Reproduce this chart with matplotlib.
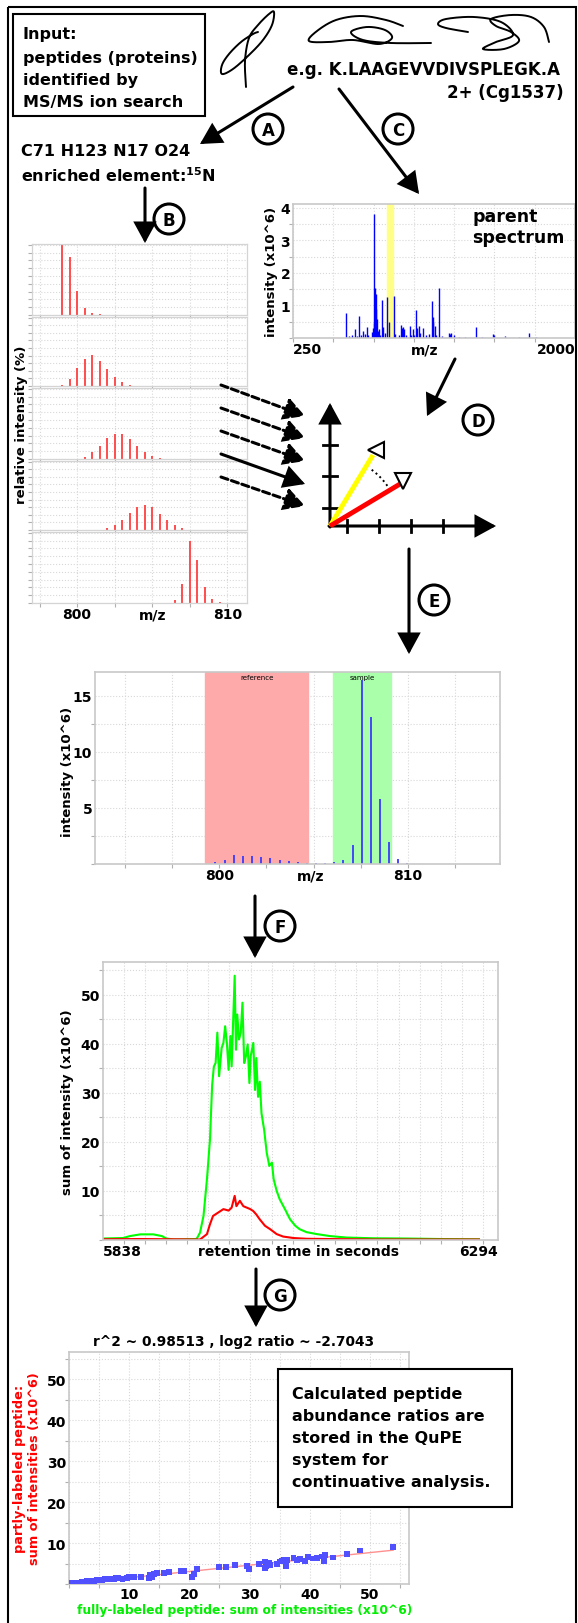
import numpy as np
import matplotlib
matplotlib.use('Agg')
import matplotlib.pyplot as plt
from matplotlib.patches import Circle, Rectangle, FancyArrowPatch
from matplotlib.ticker import MultipleLocator, FixedLocator

W, H = 578, 1624
plt.rcParams['font.family'] = ['DejaVu Sans']
plt.rcParams['font.weight'] = 'bold'
plt.rcParams['axes.labelweight'] = 'bold'

# --- B: theoretical isotope patterns (relative intensity %) ---
b1_mz = [799.0, 799.5, 800.0, 800.5, 801.0, 801.5]
b1_int = [99, 81, 34, 10, 3, 1]
b2_mz = [799.0, 799.5, 800.0, 800.5, 801.0, 801.5, 802.0, 802.5, 803.0, 803.5, 804.0]
b2_int = [2, 10.6, 26, 39.6, 44.4, 36.7, 24.6, 13.5, 5.3, 2, 0.5]
b3_mz = [800.0, 800.5, 801.0, 801.5, 802.0, 802.5, 803.0, 803.5, 804.0, 804.5, 805.0, 805.5, 806.0]
b3_int = [0.5, 3.4, 9.7, 18.9, 29.1, 35.9, 35, 27.7, 18.4, 10.2, 4.4, 1, 0.3]
b4_mz = [801.5, 802.0, 802.5, 803.0, 803.5, 804.0, 804.5, 805.0, 805.5, 806.0, 806.5, 807.0, 807.5]
b4_int = [0.3, 2.4, 7.2, 14.4, 24, 33.2, 36.5, 33.2, 23.6, 14.4, 7.2, 2.4, 0.3]
b5_mz = [806.5, 807.0, 807.5, 808.0, 808.5, 809.0, 809.5]
b5_int = [4.8, 26.4, 88, 61, 22, 5.8, 1]

# --- C: parent spectrum (x10^6) ---
parent_mz = [581, 600, 615, 635, 645, 660, 672, 687, 697, 707, 716, 738, 745, 750,
             755, 759, 763, 766, 769, 775, 782, 790, 802, 811, 820, 831, 844, 877,
             885, 905, 920, 925, 931, 939, 950, 974, 980, 993, 1003, 1015, 1022,
             1030, 1040, 1055, 1075, 1092, 1111, 1116, 1121, 1129, 1140, 1156, 1175,
             1216, 1222, 1229, 1249, 1280, 1320, 1386, 1420, 1493, 1500, 1566, 1650,
             1713, 1760]
parent_int = [0.76, 0.05, 0.08, 0.28, 0.06, 0.67, 0.1, 0.2, 0.12, 0.33, 0.08, 0.17, 0.3, 0.45,
              3.8, 1.53, 1.35, 0.9, 0.58, 0.2, 0.28, 0.1, 1.17, 0.33, 0.15, 1.25, 0.5, 1.28,
              0.12, 0.1, 0.41, 0.3, 0.33, 0.28, 0.1, 0.38, 0.1, 0.28, 0.1, 0.86, 0.3,
              0.36, 0.15, 0.3, 0.08, 0.13, 1.13, 0.5, 0.64, 0.38, 0.08, 1.55, 0.06,
              0.15, 0.12, 0.15, 0.1, 0.04, 0.04, 0.35, 0.03, 0.11, 0.08, 0.05, 0.03,
              0.15, 0.02]
selected_window = (835, 871)

# --- E: measured isotope cluster (x10^6) ---
e_mz = [799.79, 800.28, 800.78, 801.25, 801.75, 802.22, 802.71, 803.21, 803.69, 804.18,
        804.66, 805.14, 805.62, 806.10, 806.58, 807.07, 807.57, 808.04, 808.52, 809.00,
        809.49, 809.98]
e_int = [0.15, 0.33, 0.78, 0.75, 0.75, 0.66, 0.5, 0.33, 0.3, 0.2,
         0.12, 0.09, 0.08, 0.18, 0.33, 1.67, 16.4, 13.05, 5.76, 1.94,
         0.45, 0.1]
reference_window = (799.26, 804.7)
sample_window = (806.03, 809.1)

# --- F: extracted ion chromatograms (x10^6) ---
green_rt = [5838, 5861, 5869, 5881, 5896,
            5906, 5911, 5919, 5946, 5950,
            5954, 5958, 5961.5, 5964, 5966,
            5968, 5970, 5972, 5975, 5977,
            5979, 5981, 5983, 5985, 5986.5,
            5990, 5991.5, 5993, 5995, 5997,
            5999, 6001, 6003, 6005, 6007,
            6008.5, 6011.5, 6013.5, 6015, 6017,
            6019, 6021, 6024, 6027, 6030,
            6033, 6035, 6038.5, 6042, 6048,
            6054, 6060, 6065, 6073, 6085,
            6100, 6119, 6150, 6189, 6227,
            6272]
green_val = [0.3, 0.4, 0.8, 1.15, 1.15,
             0.8, 0.3, 0.1, 0.2, 1.5,
             4.9, 12.4, 20.5, 31.6, 35.4,
             36.1, 42.3, 33.4, 39.2, 40.2,
             43.6, 40.2, 34.7, 41.6, 35.4,
             53.9, 38.8, 46.0, 40.9, 42.3,
             48.4, 36.1, 37.5, 39.9, 32.0,
             37.5, 40.2, 30.6, 37.1, 29.2,
             32.3, 25.8, 22.5, 17.8, 15.1,
             15.8, 12.4, 10.0, 8.3, 6.3,
             4.2, 2.9, 2.2, 1.6, 1.2,
             0.8, 0.5, 0.35, 0.3, 0.2,
             0.15]
red_rt = [5838, 5881, 5950, 5958, 5961.5, 5965, 5971, 5977, 5983, 5986.5,
          5990, 5992, 5996, 6000, 6004, 6008, 6011.5, 6015, 6019, 6025,
          6031, 6038.5, 6046, 6058, 6073, 6150, 6272]
red_val = [0.15, 0.2, 0.1, 1.2, 3.2, 4.9, 5.6, 6.3, 6.0, 6.6,
           9.0, 6.9, 8.0, 6.9, 6.6, 6.3, 5.9, 5.2, 4.2, 2.9,
           2.2, 1.2, 0.7, 0.4, 0.25, 0.1, 0.1]

# --- G: intensity pairs (x10^6) ---
full_lab = [0.44, 0.88, 1.32, 1.71, 2.1, 2.54, 2.98, 3.37, 3.75, 4.2, 4.64, 5.08, 5.52,
            5.96, 6.4, 6.95, 7.5, 7.78, 8.17, 8.89, 9.71, 9.88, 10.38, 10.82, 11.92,
            13.3, 13.41, 13.85, 14.13, 14.68, 15.78, 16.61, 18.54, 19.2, 20.47, 20.75,
            21.3, 24.89, 26.16, 27.65, 29.58, 29.86, 31.52, 32.62, 32.62, 32.8, 33.2,
            33.44, 34.55, 35.1, 35.4, 35.65, 36.0, 36.04, 36.2, 37.31, 37.86, 38.41,
            39.24, 39.79, 40.62, 41.28, 42.0, 42.38, 42.55, 43.93, 46.14, 48.34, 53.86]
part_lab = [0.16, 0.16, 0.25, 0.33, 0.41, 0.57, 0.65, 0.74, 0.82, 0.82, 0.98, 0.98, 1.06,
            1.15, 1.23, 1.31, 1.31, 1.47, 1.56, 1.15, 1.56, 1.8, 1.8, 1.72, 1.8,
            1.47, 2.21, 1.8, 2.37, 2.62, 2.79, 2.87, 3.28, 3.19, 1.64, 2.4,
            3.6, 4.1, 4.1, 4.67, 4.5, 3.6, 4.91, 3.85, 5.49, 4.3, 5.1,
            4.67, 4.91, 5.49, 5.6, 5.9, 5.2, 4.42, 5.8, 6.3, 5.9, 6.06,
            5.73, 6.55, 6.23, 6.3, 6.72, 5.73, 7.13, 6.47, 7.37, 8.19, 9.0]
r2 = 0.98513
log2_ratio = -2.7043

fig = plt.figure(figsize=(W / 100, H / 100), dpi=100)


def px_axes(l, t, r, b):
    return fig.add_axes([l / W, 1 - b / H, (r - l) / W, (b - t) / H])


def chart_style(ax, gx, gy, spine='#c8c8c8', slw=1.2):
    for s in ax.spines.values():
        s.set_color(spine)
        s.set_linewidth(slw)
    ax.xaxis.set_minor_locator(gx)
    ax.yaxis.set_minor_locator(gy)
    ax.grid(which='both', color='#d8d8d8', ls=':', lw=0.8)
    ax.set_axisbelow(True)
    ax.tick_params(which='both', direction='out', length=3, color='#b0b0b0',
                   width=0.8, labelsize=10, pad=2)


def xlab(ax, x, s, ha, size=10):
    ax.annotate(s, (x, 0), xycoords=('data', 'axes fraction'), xytext=(0, -3),
                textcoords='offset points', ha=ha, va='top', fontsize=size)


# B panels
b_rows = [(245, 316), (318, 387), (389, 460), (462, 531), (533, 604)]
b_data = [(b1_mz, b1_int), (b2_mz, b2_int), (b3_mz, b3_int), (b4_mz, b4_int), (b5_mz, b5_int)]
for i, ((t, b), (mz, inten)) in enumerate(zip(b_rows, b_data)):
    ax = px_axes(32, t, 247, b)
    ax.vlines(mz, 0, inten, color='#ff4d4d', lw=1.4)
    ax.set_xlim(797, 811.3)
    ax.set_ylim(0, 100)
    ax.set_xticks([])
    ax.set_yticks([])
    chart_style(ax, MultipleLocator(2.5), MultipleLocator(11), spine='#d4d4d4', slw=0.9)
    if i == 4:
        xlab(ax, 800, '800', 'center')
        xlab(ax, 805, 'm/z', 'center')
        xlab(ax, 810, '810', 'center')

# C parent spectrum
ax = px_axes(293, 205, 575, 339)
ax.axvspan(*selected_window, color='#ffff88', zorder=1)
ax.vlines(parent_mz, 0, parent_int, color='#0000ff', lw=1.0, zorder=2)
ax.hlines(0.012, parent_mz[0], parent_mz[-1], color='#0000ff', lw=0.8, zorder=2)
ax.set_xlim(250, 2000)
ax.set_ylim(0, 4.12)
ax.set_xticks([])
ax.set_yticks([1, 2, 3, 4])
chart_style(ax, MultipleLocator(250), MultipleLocator(0.5))
ax.tick_params(axis='y', which='major', length=0)
xlab(ax, 250, '250', 'left')
xlab(ax, 1069, 'm/z', 'center')
xlab(ax, 2000, '2000', 'right')

# E measured cluster
ax = px_axes(95, 673, 500, 865)
ax.axvspan(*reference_window, color='#ffaaaa', zorder=1)
ax.axvspan(*sample_window, color='#aaffaa', zorder=1)
ax.vlines(e_mz, 0, e_int, color='#3a3aff', lw=1.3, zorder=2)
ax.set_xlim(793.4, 814.9)
ax.set_ylim(0, 17.1)
ax.set_xticks([])
ax.set_yticks([5, 10, 15])
chart_style(ax, MultipleLocator(2.5), MultipleLocator(2.5))
ax.tick_params(axis='y', which='major', length=0)
ax.text(sum(reference_window) / 2, 16.95, 'reference', ha='center', va='top',
        fontsize=5, fontweight='normal', zorder=3)
ax.text(sum(sample_window) / 2, 16.95, 'sample', ha='center', va='top',
        fontsize=5, fontweight='normal', zorder=3)
xlab(ax, 800, '800', 'center')
xlab(ax, 804.85, 'm/z', 'center')
xlab(ax, 810, '810', 'center')

# F chromatograms
ax = px_axes(103, 963, 498, 1241)
ax.plot(green_rt, green_val, color='#00ff00', lw=1.5)
ax.plot(red_rt, red_val, color='#ff0000', lw=1.5)
ax.set_xlim(5838, 6294)
ax.set_ylim(0, 56.7)
ax.set_xticks([])
ax.set_yticks([10, 20, 30, 40, 50])
chart_style(ax, FixedLocator(np.arange(5862, 6294, 24.4)), MultipleLocator(5))
ax.tick_params(axis='y', which='major', length=0)
xlab(ax, 5838, '5838', 'left')
xlab(ax, 6064, 'retention time in seconds', 'center')
xlab(ax, 6294, '6294', 'right')

# G ratio regression
ax = px_axes(69, 1353, 409, 1585)
fx = np.array(full_lab)
ax.plot([0, fx.max()], [0, fx.max() * 2 ** log2_ratio], color='#ff9090', lw=1.0, zorder=2)
ax.scatter(full_lab, part_lab, marker='s', s=18, color='#5050ff', edgecolors='none', zorder=3)
ax.set_xlim(0, 56.5)
ax.set_ylim(0, 56.7)
ax.set_xticks([10, 20, 30, 40, 50])
ax.set_yticks([10, 20, 30, 40, 50])
chart_style(ax, MultipleLocator(5), MultipleLocator(5))
ax.tick_params(which='major', length=0)

# overlay for the workflow drawing
ov = fig.add_axes([0, 0, 1, 1])
ov.set_xlim(0, W)
ov.set_ylim(H, 0)
ov.axis('off')
ov.patch.set_visible(False)
ov.set_zorder(10)

ov.add_patch(Rectangle((8, 8), 568, 1630, fill=False, lw=1.5, color='black'))


def arrow(p0, p1, ls='-'):
    ov.add_patch(FancyArrowPatch(p0, p1, arrowstyle='-|>,head_length=0.55,head_width=0.3',
                                 mutation_scale=22, lw=2.2, color='black', linestyle=ls,
                                 shrinkA=0, shrinkB=0, joinstyle='miter'))


def badge(x, y, s):
    ov.add_patch(Circle((x, y), 15, fill=False, lw=2.2, color='black'))
    ov.text(x, y + 1, s, ha='center', va='center', fontsize=12)


def spline(pts, n=20):
    p = np.array(pts, dtype=float)
    p = np.vstack([p[0], p, p[-1]])
    out = []
    for i in range(1, len(p) - 2):
        p0, p1, p2, p3 = p[i - 1], p[i], p[i + 1], p[i + 2]
        t = np.linspace(0, 1, n)[:, None]
        out.append(0.5 * ((2 * p1) + (-p0 + p2) * t + (2 * p0 - 5 * p1 + 4 * p2 - p3) * t ** 2
                          + (-p0 + 3 * p1 - 3 * p2 + p3) * t ** 3))
    return np.vstack(out)


# input box
ov.add_patch(Rectangle((13, 15), 192, 102, fill=False, lw=1.5, color='black'))
for yy, s in zip([35, 58, 81, 103], ['Input:', 'peptides (proteins)', 'identified by',
                                      'MS/MS ion search']):
    ov.text(23, yy, s, ha='left', va='center', fontsize=11.5)

# peptide chain squiggles
for pts in [
    [(246, 88), (245, 62), (249, 39), (258, 26), (269, 15), (274, 13), (272, 26), (263, 41),
     (249, 56), (233, 70), (222, 75), (222, 66), (229, 55), (241, 43), (253, 35), (258, 33)],
    [(403, 27), (386, 21), (361, 17), (336, 21), (317, 32), (309, 42), (329, 43), (353, 41),
     (379, 45), (392, 39), (385, 31), (367, 28), (351, 33), (363, 41), (391, 44), (431, 44)],
    [(468, 33), (446, 29), (438, 25), (446, 20), (474, 18), (501, 23), (513, 36), (496, 43),
     (483, 50), (504, 50), (519, 42), (511, 33), (496, 27), (491, 20), (511, 16), (531, 18),
     (544, 28), (549, 43)],
]:
    c = spline(pts)
    ov.plot(c[:, 0], c[:, 1], color='black', lw=1.4, solid_capstyle='round')

ov.text(560, 70, 'e.g. K.LAAGEVVDIVSPLEGK.A', ha='right', va='center', fontsize=12)
ov.text(564, 93, '2+ (Cg1537)', ha='right', va='center', fontsize=12)

arrow((293, 88), (200, 145))
badge(268, 130, 'A')
arrow((339, 90), (419, 195))
badge(398, 130, 'C')

ov.text(21, 152, 'C71 H123 N17 O24', ha='left', va='center', fontsize=11.5)
ov.text(21, 176, r'enriched element:$^{\mathbf{15}}$N', ha='left', va='center', fontsize=11.5)

arrow((145, 189), (145, 244))
badge(169, 220, 'B')

ov.text(22, 425, 'relative intensity (%)', rotation=90, ha='center', va='center', fontsize=9.5)
ov.text(272, 272, 'intensity (x10^6)', rotation=90, ha='center', va='center', fontsize=9.5)
ov.text(472, 217, 'parent', ha='left', va='center', fontsize=12.5)
ov.text(472, 238, 'spectrum', ha='left', va='center', fontsize=12.5)

# D: pattern matching by angle
arrow((455, 360), (427, 417))
badge(478, 421, 'D')
for y0, y1, ls in [(386, 417, (0, (2.4, 1.2))), (409, 439, (0, (2.4, 1.2))),
                   (432, 462, (0, (2.4, 1.2))), (455, 485, '-'), (478, 507, (0, (2.4, 1.2)))]:
    arrow((221, y0), (305, y1), ls)
arrow((330, 528), (330, 404))
arrow((329, 527), (496, 527))
for yy in [446, 477, 509]:
    ov.plot([323, 337], [yy, yy], color='black', lw=2)
for xx in [347, 379, 411, 443]:
    ov.plot([xx, xx], [521, 533], color='black', lw=2)
ov.plot([330, 373], [527, 456], color='#ffff00', lw=3.5, solid_capstyle='butt')
ov.plot([330, 400], [527, 485], color='#ff0000', lw=3.5, solid_capstyle='butt')
th = np.radians(np.linspace(35, 56, 25))
ov.plot(330 + 70 * np.cos(th), 527 - 70 * np.sin(th), color='black', lw=1.4, ls=':')
ov.plot(376, 451, marker='<', ms=11, mfc='white', mec='black', mew=1.5)
ov.plot(403, 482, marker='v', ms=11, mfc='white', mec='black', mew=1.5)

arrow((409, 550), (409, 655))
badge(434, 601, 'E')
ov.text(68, 772, 'intensity (x10^6)', rotation=90, ha='center', va='center', fontsize=9.5)

arrow((255, 897), (255, 959))
badge(280, 927, 'F')
ov.text(67, 1102, 'sum of intensity (x10^6)', rotation=90, ha='center', va='center', fontsize=9.5)

arrow((256, 1270), (256, 1328))
badge(280, 1296, 'G')
ov.text(93, 1342, f'r^2 ~ {r2} , log2 ratio ~ {log2_ratio}', ha='left', va='center', fontsize=9.9)
ov.text(27, 1469, 'partly-labeled peptide:\nsum of intensities (x10^6)', rotation=90,
        ha='center', va='center', fontsize=9.3, color='#ff0000', linespacing=1.2)
ov.text(245, 1611, 'fully-labeled peptide: sum of intensities (x10^6)', ha='center',
        va='center', fontsize=8.8, color='#00ee00')

ov.add_patch(Rectangle((278, 1370), 234, 138, facecolor='white', edgecolor='black', lw=1.5))
for yy, s in zip([1395, 1417, 1439, 1461, 1483],
                 ['Calculated peptide', 'abundance ratios are', 'stored in the QuPE',
                  'system for', 'continuative analysis.']):
    ov.text(292, yy, s, ha='left', va='center', fontsize=11.5)

fig.savefig('out.png', dpi=100)
